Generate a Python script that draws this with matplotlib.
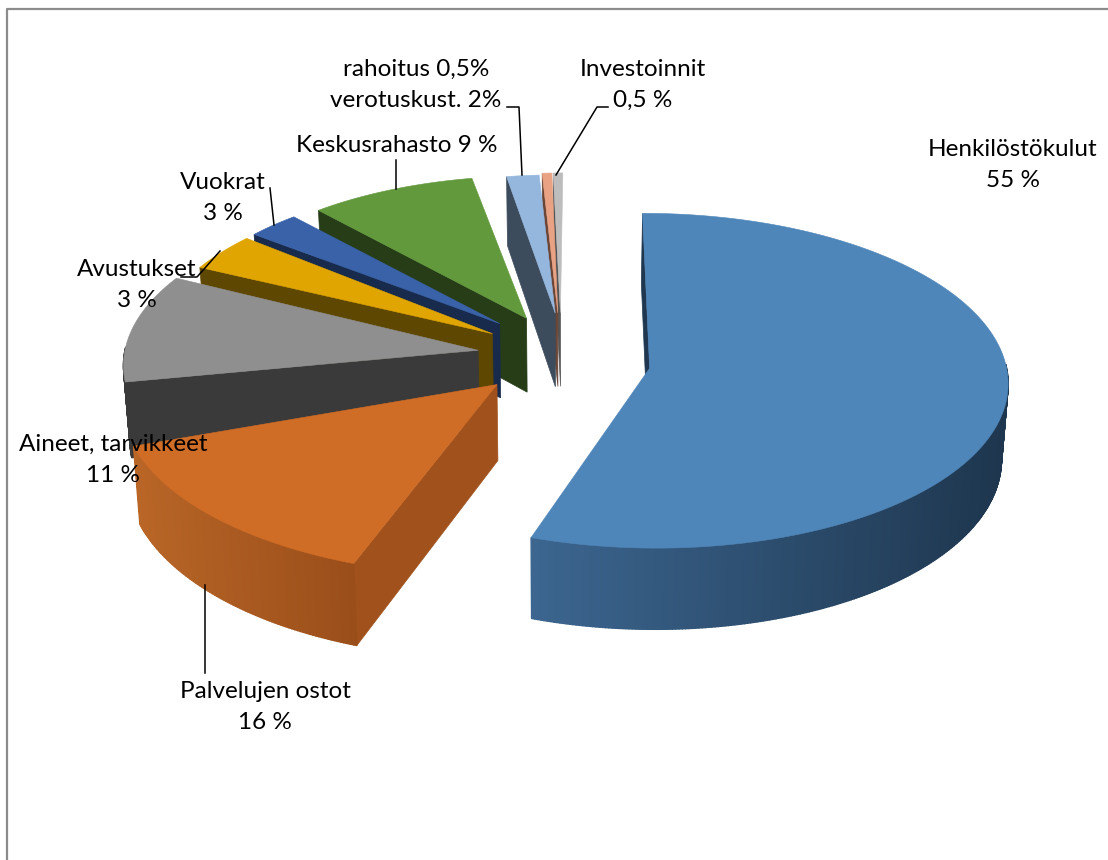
import numpy as np
import matplotlib
matplotlib.use('Agg')
import matplotlib.pyplot as plt
from matplotlib.patches import Polygon
from matplotlib.colors import to_rgb

plt.rcParams['font.family'] = ['Lato', 'DejaVu Sans']

#%% Data
names = ['Henkilöstökulut', 'Palvelujen ostot', 'Aineet, tarvikkeet', 'Avustukset', 'Vuokrat',
         'Keskusrahasto', 'verotuskust.', 'rahoitus', 'Investoinnit']
shares = [55, 16, 11, 3, 3, 9, 2, 0.5, 0.5]

top_colors = ['#4F86B9', '#CF6C26', '#8F8F8F', '#E0A500', '#3A62A8', '#62993D', '#95B7DE', '#E9A283', '#BDBDBD']
face_colors = ['#1F3850', '#A0511C', '#3A3A3A', '#5E4700', '#182B4D', '#263D18', '#3D4C5C', '#6B4636', '#555555']
wall_left = ['#3C6690', '#B96627', '#3A3A3A', '#5E4700', '#182B4D', '#263D18', '#3D4C5C', '#6B4636', '#555555']
wall_right = ['#1E364E', '#9A4E1A', '#3A3A3A', '#5E4700', '#182B4D', '#263D18', '#3D4C5C', '#6B4636', '#555555']

labels = [('Henkilöstökulut\n55 %', 1013, 165), ('Palvelujen ostot\n16 %', 265, 707),
          ('Aineet, tarvikkeet\n11 %', 113, 460), ('Avustukset\n3 %', 137, 285),
          ('Vuokrat\n3 %', 223, 198), ('Keskusrahasto 9 %', 397, 146),
          ('rahoitus 0,5%\nverotuskust. 2%', 416, 85), ('Investoinnit\n0,5 %', 643, 85)]

leaders = [([507, 519, 522], [107, 107, 175]), ([608, 597, 556], [107, 107, 175]),
           ([396, 396], [160, 189]), ([270, 274], [188, 225]),
           ([181, 197, 220], [277, 277, 251]), ([205, 205], [585, 673])]

#%% Pie geometry (pixel space)
start_angle = -1.5
explode = 0.24
cx, cy = 564, 363
rx, ry = 359, 167
persp = 0.075
depth = 75

# the 3d view is not a clean projection, so each slice gets a small correction
slice_scale = [0.992, 1.03, 0.985, 0.95, 0.925, 0.94, 0.915, 0.926, 0.926]
slice_dx = [0, -5, 0, 3, 1, 3, 4, 0, 0]
slice_dy = [0, -7, -10, -10, -14, -10, -11, -11, -11]
edge0 = [1.3, 3.5, 4.9, 2.3, 3.5, 3.0, 2.9, 2.1, 1.9]
edge1 = [2.5, -4.0, 3.3, 5.2, 2.7, 1.7, 1.9, 2.1, 1.9]


def project(xd, yd, low=False):
    s = 1 / (1 + persp * yd)
    if low:
        return cx + rx * xd * s * 0.985, cy - ry * yd * s + depth * s
    return cx + rx * xd * s, cy - ry * yd * s


fig = plt.figure(figsize=(11.08, 8.6), dpi=100)
ax = fig.add_axes([0, 0, 1, 1])
ax.set_xlim(0, 1108)
ax.set_ylim(860, 0)
ax.axis('off')

ax.plot([7, 7, 1108], [860, 9, 9], color='#8C8C8C', lw=1.6)

angles = start_angle + np.cumsum([0] + shares) * 3.6

# back to front
for i in [8, 7, 6, 5, 4, 3, 2, 1, 0]:
    a0, a1 = angles[i], angles[i + 1]
    mid = np.radians((a0 + a1) / 2)
    ox, oy = explode * np.sin(mid), explode * np.cos(mid)
    a0, a1 = a0 + edge0[i], a1 + edge1[i]
    th = np.radians(np.linspace(a0, a1, max(int(a1 - a0) * 2, 4)))
    xd = ox + slice_scale[i] * np.sin(th)
    yd = oy + slice_scale[i] * np.cos(th)

    tx, ty = project(xd, yd)
    bx, by = project(xd, yd, low=True)
    ax_t, ay_t = project(ox, oy)
    ax_b, ay_b = project(ox, oy, low=True)

    # move the whole slice
    tx, bx = tx + slice_dx[i], bx + slice_dx[i]
    ty, by = ty + slice_dy[i], by + slice_dy[i]
    ax_t, ax_b = ax_t + slice_dx[i], ax_b + slice_dx[i]
    ay_t, ay_b = ay_t + slice_dy[i], ay_b + slice_dy[i]

    # radial face on the start edge, the other one is never seen
    ax.add_patch(Polygon([(ax_t, ay_t), (tx[0], ty[0]), (bx[0], by[0]), (ax_b, ay_b)],
                         fc=face_colors[i], ec=face_colors[i], lw=0.5))
    # outer wall, shaded left to right, only the part facing us
    c0, c1 = np.array(to_rgb(wall_left[i])), np.array(to_rgb(wall_right[i]))
    span = max(tx.max() - tx.min(), 1)
    for j in range(len(th) - 1):
        if np.cos(th[j]) > 0.02 and np.cos(th[j + 1]) > 0.02:
            continue
        f = (tx[j] - tx.min()) / span
        col = c0 + (c1 - c0) * f
        ax.add_patch(Polygon([(tx[j], ty[j]), (tx[j + 1], ty[j + 1]), (bx[j + 1], by[j + 1]), (bx[j], by[j])],
                             fc=col, ec=col, lw=1))
    # top
    ax.add_patch(Polygon([(ax_t, ay_t)] + list(zip(tx, ty)), fc=top_colors[i], ec=top_colors[i], lw=0.4))

for xs, ys in leaders:
    ax.plot(xs, ys, color='black', lw=1.1)

for txt, x, y in labels:
    ax.text(x, y, txt, ha='center', va='center', fontsize=17.5, color='black', linespacing=1.6)

plt.savefig('out.png', dpi=100)
